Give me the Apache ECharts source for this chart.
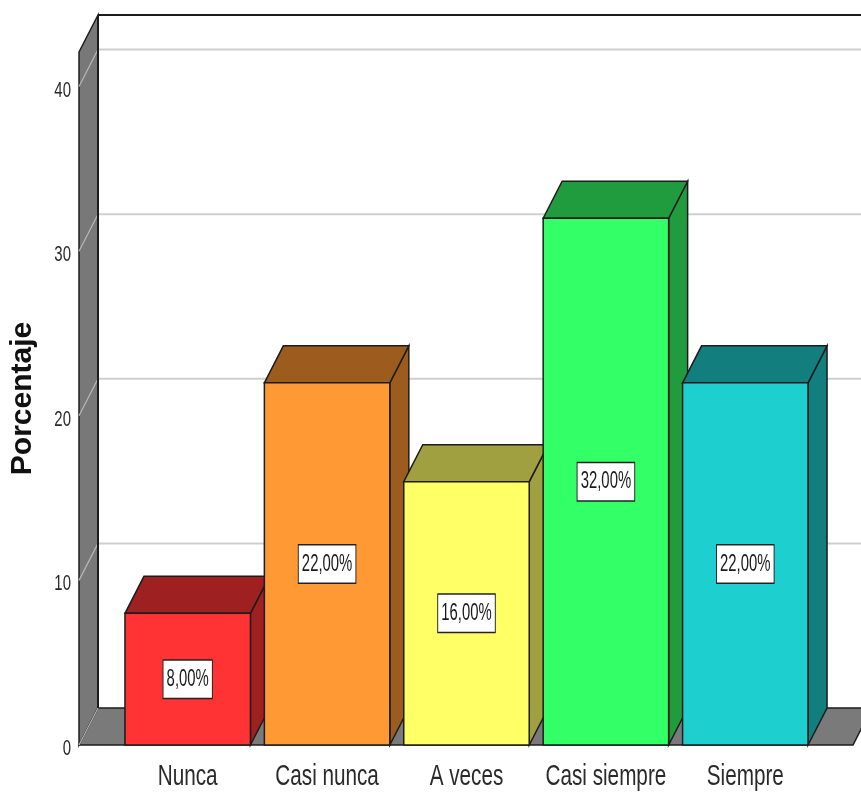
<!DOCTYPE html>
<html>
<head>
<meta charset="utf-8">
<title>Porcentaje</title>
<script src="https://cdn.jsdelivr.net/npm/echarts@6/dist/echarts.min.js"></script>
<style>
  html, body { margin: 0; padding: 0; background: #ffffff; overflow: hidden; }
  #chart { width: 861px; height: 797px; }
</style>
</head>
<body>
<div id="chart"></div>
<script>
// Response categories and their share of answers (%)
const categories = ['Nunca', 'Casi nunca', 'A veces', 'Casi siempre', 'Siempre'];
const percentages = [8, 22, 16, 32, 22];
// Gridline / tick values on the percentage axis
const yTicks = [0, 10, 20, 30, 40];

// Face colours: front face and the darker top/side faces
const frontColors = ['#ff3333', '#ff9933', '#ffff66', '#33ff66', '#1dcfcf'];
const shadeColors = ['#9e2020', '#9c5c1e', '#a0a040', '#209c3e', '#127e7e'];

// 3D depth offset of the box and the frame
const DEPTH_X = 19;
const DEPTH_Y = -37;
const FRAME_PAD_LEFT = 39;
const FRAME_PAD_RIGHT = 38;
const EDGE = '#1c1c1c';
const SANS = "'Liberation Sans', Arial, sans-serif";

function fmtPct(v) {
  return v.toFixed(2).replace('.', ',') + '%';
}

const chart = echarts.init(document.getElementById('chart'), null, { renderer: 'canvas' });

// Side wall, floor, back wall gridlines and the condensed tick labels
function renderFrame(params, api) {
  const cs = params.coordSys;
  const top = cs.y;
  const bottom = cs.y + cs.height;
  const xl = cs.x - FRAME_PAD_LEFT;
  const xr = cs.x + cs.width + FRAME_PAD_RIGHT;
  const W = api.getWidth();
  const children = [];

  // side wall
  children.push({
    type: 'polygon',
    shape: { points: [[xl, top], [xl + DEPTH_X, top + DEPTH_Y], [xl + DEPTH_X, bottom + DEPTH_Y], [xl, bottom]] },
    style: { fill: '#787878', stroke: EDGE, lineWidth: 1.5 }
  });
  // floor
  children.push({
    type: 'polygon',
    shape: { points: [[xl, bottom], [xl + DEPTH_X, bottom + DEPTH_Y], [xr + DEPTH_X, bottom + DEPTH_Y], [xr, bottom]] },
    style: { fill: '#7a7a7a', stroke: EDGE, lineWidth: 1.5 }
  });
  // gridlines on side wall and back wall, tick labels in front of the side wall
  yTicks.forEach(function (v) {
    const y = api.coord([0, v])[1];
    children.push({
      type: 'line',
      shape: { x1: xl, y1: y, x2: xl + DEPTH_X, y2: y + DEPTH_Y },
      style: { stroke: '#b8b8b8', lineWidth: 1.2 }
    });
    if (v > 0) {
      children.push({
        type: 'line',
        shape: { x1: xl + DEPTH_X, y1: y + DEPTH_Y, x2: W, y2: y + DEPTH_Y },
        style: { stroke: '#cfcfcf', lineWidth: 2 }
      });
    }
    children.push({
      type: 'text',
      x: xl - 8,
      y: y + 4,
      scaleX: 0.68,
      style: {
        text: String(v),
        font: '22px ' + SANS,
        fill: '#2a2a2a',
        align: 'right',
        verticalAlign: 'middle'
      }
    });
  });
  // back wall top edge and left corner
  children.push({
    type: 'line',
    shape: { x1: xl + DEPTH_X, y1: top + DEPTH_Y, x2: W, y2: top + DEPTH_Y },
    style: { stroke: EDGE, lineWidth: 2 }
  });
  children.push({
    type: 'line',
    shape: { x1: xl + DEPTH_X, y1: top + DEPTH_Y, x2: xl + DEPTH_X, y2: bottom + DEPTH_Y },
    style: { stroke: EDGE, lineWidth: 2 }
  });
  return { type: 'group', children: children };
}

// One 3D box per category, with its value label on the front face
// and the category name under it (condensed type)
function renderBar(params, api) {
  const idx = api.value(0);
  const val = api.value(1);
  const base = api.coord([idx, 0]);
  const topP = api.coord([idx, val]);
  const band = api.size([1, 0])[0];
  const w = band * 0.9;
  const x0 = base[0] - w / 2;
  const x1 = base[0] + w / 2;
  const yb = base[1];
  const yt = topP[1];
  const front = frontColors[params.dataIndex];
  const shade = shadeColors[params.dataIndex];

  return {
    type: 'group',
    children: [
      {
        type: 'polygon',
        shape: { points: [[x1, yt], [x1 + DEPTH_X, yt + DEPTH_Y], [x1 + DEPTH_X, yb + DEPTH_Y], [x1, yb]] },
        style: { fill: shade, stroke: EDGE, lineWidth: 1.5 }
      },
      {
        type: 'polygon',
        shape: { points: [[x0, yt], [x0 + DEPTH_X, yt + DEPTH_Y], [x1 + DEPTH_X, yt + DEPTH_Y], [x1, yt]] },
        style: { fill: shade, stroke: EDGE, lineWidth: 1.5 }
      },
      {
        type: 'rect',
        shape: { x: x0, y: yt, width: w, height: yb - yt },
        style: { fill: front, stroke: EDGE, lineWidth: 1.5 }
      },
      {
        type: 'text',
        x: base[0],
        y: (yt + yb) / 2,
        scaleX: 0.62,
        style: {
          text: fmtPct(val),
          font: '24px ' + SANS,
          fill: '#1a1a1a',
          align: 'center',
          verticalAlign: 'middle',
          backgroundColor: '#ffffff',
          borderColor: '#222222',
          borderWidth: 1.5,
          padding: [7, 5, 6, 5]
        }
      },
      {
        type: 'text',
        x: base[0],
        y: yb + 32,
        scaleX: 0.69,
        style: {
          text: categories[params.dataIndex],
          font: '30px ' + SANS,
          fill: '#2a2a2a',
          align: 'center',
          verticalAlign: 'middle'
        }
      }
    ]
  };
}

const option = {
  backgroundColor: '#ffffff',
  animation: false,
  grid: { left: 115, right: 46, top: 52, bottom: 52 },
  xAxis: {
    type: 'category',
    data: categories,
    axisLine: { show: false },
    axisTick: { show: false },
    splitLine: { show: false },
    axisLabel: { show: false }
  },
  yAxis: {
    type: 'value',
    min: 0,
    max: 42.1,
    interval: 10,
    name: 'Porcentaje',
    nameLocation: 'middle',
    nameRotate: 90,
    nameGap: 80,
    nameTextStyle: { fontSize: 30, fontWeight: 'bold', fontFamily: SANS, color: '#111111' },
    axisLine: { show: false },
    axisTick: { show: false },
    splitLine: { show: false },
    axisLabel: { show: false }
  },
  series: [
    {
      type: 'custom',
      name: 'frame',
      silent: true,
      clip: false,
      z: 1,
      data: [[0, 0]],
      encode: { x: 0, y: 1 },
      renderItem: renderFrame
    },
    {
      type: 'custom',
      name: 'Porcentaje',
      clip: false,
      z: 2,
      data: percentages.map(function (v, i) { return [i, v]; }),
      encode: { x: 0, y: 1 },
      renderItem: renderBar
    }
  ]
};

chart.setOption(option);
</script>
</body>
</html>
